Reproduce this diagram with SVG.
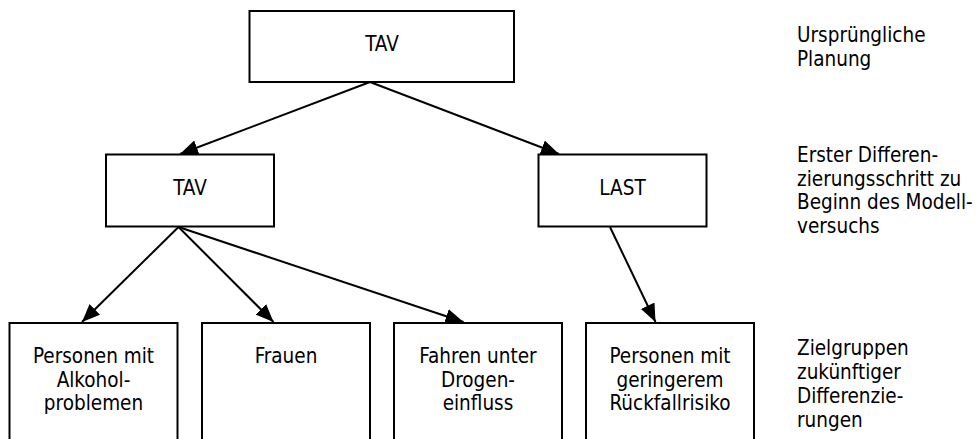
<svg xmlns="http://www.w3.org/2000/svg" width="977" height="439" viewBox="0 0 977 439">
  <style>
    .box { fill: #ffffff; stroke: #000000; stroke-width: 2; }
    .lbl { font-family: "DejaVu Sans Condensed", "DejaVu Sans", sans-serif; font-stretch: condensed; font-size: 20.5px; fill: #000000; }
    .mid { text-anchor: middle; }
    .edge { stroke: #000000; stroke-width: 2; fill: none; marker-end: url(#arrow); }
  </style>
  <defs>
    <marker id="arrow" markerUnits="userSpaceOnUse" markerWidth="20" markerHeight="16" refX="18" refY="7.5" orient="auto">
      <polygon points="0,0 18,7.5 0,15" fill="#000000"/>
    </marker>
  </defs>
  <rect width="977" height="439" fill="#ffffff"/>

  <!-- connectors -->
  <g id="connectors">
    <line class="edge" x1="370" y1="82" x2="180" y2="154"/>
    <line class="edge" x1="370" y1="82" x2="559" y2="154"/>
    <line class="edge" x1="178.5" y1="227" x2="82" y2="322"/>
    <line class="edge" x1="178.5" y1="227" x2="273.5" y2="322"/>
    <line class="edge" x1="178.5" y1="227" x2="463.5" y2="322"/>
    <line class="edge" x1="610" y1="227" x2="655.5" y2="322"/>
  </g>

  <!-- level 0 -->
  <g id="node-tav-root">
    <rect class="box" x="249.5" y="11" width="264.5" height="71"/>
    <text class="lbl mid" x="382" y="51">TAV</text>
  </g>

  <!-- level 1 -->
  <g id="node-tav">
    <rect class="box" x="106" y="154.5" width="168" height="72"/>
    <text class="lbl mid" x="190" y="195">TAV</text>
  </g>
  <g id="node-last">
    <rect class="box" x="538.5" y="154.5" width="168" height="72"/>
    <text class="lbl mid" x="622.5" y="195">LAST</text>
  </g>

  <!-- level 2 -->
  <g id="node-alkohol">
    <rect class="box" x="9.5" y="323" width="168" height="130"/>
    <text class="lbl mid" x="93.5" y="363">Personen mit</text>
    <text class="lbl mid" x="93.5" y="386.5">Alkohol-</text>
    <text class="lbl mid" x="93.5" y="410">problemen</text>
  </g>
  <g id="node-frauen">
    <rect class="box" x="202" y="323" width="168" height="130"/>
    <text class="lbl mid" x="286" y="363">Frauen</text>
  </g>
  <g id="node-drogen">
    <rect class="box" x="394" y="323" width="168" height="130"/>
    <text class="lbl mid" x="478" y="363">Fahren unter</text>
    <text class="lbl mid" x="478" y="386.5">Drogen-</text>
    <text class="lbl mid" x="478" y="410">einfluss</text>
  </g>
  <g id="node-rueckfall">
    <rect class="box" x="586" y="323" width="168" height="130"/>
    <text class="lbl mid" x="670" y="363">Personen mit</text>
    <text class="lbl mid" x="670" y="386.5">geringerem</text>
    <text class="lbl mid" x="670" y="410">Rückfallrisiko</text>
  </g>

  <!-- level captions -->
  <g id="caption-level0">
    <text class="lbl" x="797" y="42">Ursprüngliche</text>
    <text class="lbl" x="797" y="66">Planung</text>
  </g>
  <g id="caption-level1">
    <text class="lbl" x="797" y="162">Erster Differen-</text>
    <text class="lbl" x="797" y="185.5">zierungsschritt zu</text>
    <text class="lbl" x="797" y="209">Beginn des Modell-</text>
    <text class="lbl" x="797" y="232.5">versuchs</text>
  </g>
  <g id="caption-level2">
    <text class="lbl" x="797" y="355">Zielgruppen</text>
    <text class="lbl" x="797" y="379">zukünftiger</text>
    <text class="lbl" x="797" y="403">Differenzie-</text>
    <text class="lbl" x="797" y="427">rungen</text>
  </g>
</svg>
